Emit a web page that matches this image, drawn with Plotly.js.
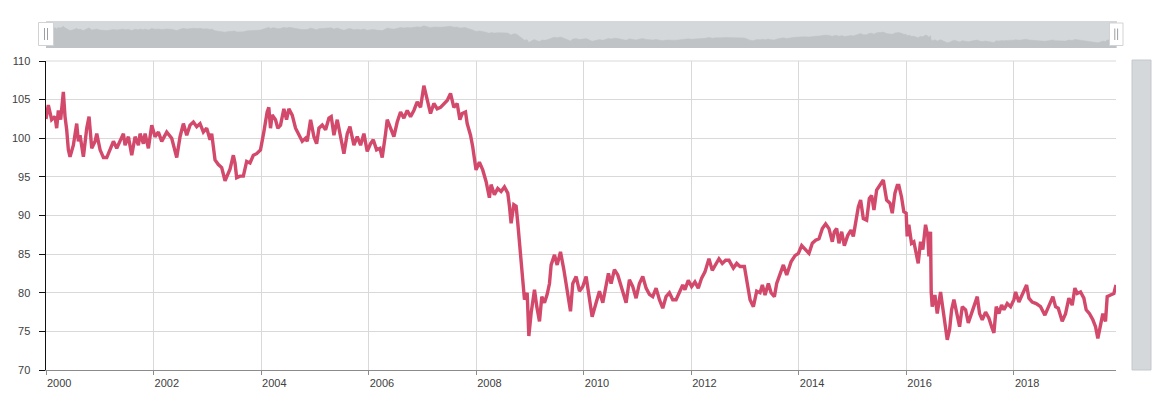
<!DOCTYPE html>
<html>
<head>
<meta charset="utf-8">
<script src="https://cdn.plot.ly/plotly-3.0.1.min.js"></script>
<style>
  html, body { margin: 0; padding: 0; background: #fff; }
  #chart { width: 1170px; height: 400px; }
</style>
</head>
<body>
<div id="chart"></div>
<script>
// ---- Data ----
// Time as decimal years, value of the index
const decimalYears = [
  2000.000, 2000.043, 2000.105, 2000.167, 2000.198, 2000.229, 2000.272, 2000.322, 2000.353, 2000.384,
  2000.415, 2000.446, 2000.508, 2000.570, 2000.601, 2000.632, 2000.694, 2000.756, 2000.799, 2000.849,
  2000.911, 2000.942, 2001.004, 2001.066, 2001.128, 2001.190, 2001.252, 2001.314, 2001.376, 2001.438,
  2001.469, 2001.531, 2001.593, 2001.655, 2001.717, 2001.748, 2001.810, 2001.841, 2001.903, 2001.965,
  2002.027, 2002.089, 2002.151, 2002.244, 2002.337, 2002.430, 2002.492, 2002.554, 2002.616, 2002.678,
  2002.740, 2002.802, 2002.864, 2002.926, 2002.988, 2003.050, 2003.081, 2003.143, 2003.205, 2003.267,
  2003.329, 2003.391, 2003.422, 2003.484, 2003.515, 2003.546, 2003.608, 2003.670, 2003.732, 2003.794,
  2003.856, 2003.918, 2003.989, 2004.051, 2004.113, 2004.144, 2004.175, 2004.206, 2004.268, 2004.311,
  2004.361, 2004.423, 2004.473, 2004.516, 2004.578, 2004.640, 2004.702, 2004.764, 2004.826, 2004.857,
  2004.919, 2004.981, 2005.031, 2005.074, 2005.136, 2005.198, 2005.260, 2005.303, 2005.353, 2005.415,
  2005.477, 2005.539, 2005.601, 2005.651, 2005.725, 2005.787, 2005.849, 2005.911, 2005.973, 2006.035,
  2006.085, 2006.147, 2006.209, 2006.252, 2006.314, 2006.345, 2006.407, 2006.469, 2006.531, 2006.593,
  2006.655, 2006.717, 2006.779, 2006.841, 2006.903, 2006.965, 2007.027, 2007.089, 2007.151, 2007.213,
  2007.275, 2007.337, 2007.399, 2007.461, 2007.523, 2007.585, 2007.647, 2007.697, 2007.740, 2007.802,
  2007.833, 2007.895, 2007.936, 2007.998, 2008.060, 2008.122, 2008.184, 2008.246, 2008.277, 2008.339,
  2008.401, 2008.463, 2008.525, 2008.587, 2008.618, 2008.649, 2008.699, 2008.742, 2008.773, 2008.804,
  2008.835, 2008.866, 2008.897, 2008.947, 2008.978, 2009.021, 2009.083, 2009.126, 2009.176, 2009.219,
  2009.269, 2009.319, 2009.362, 2009.393, 2009.455, 2009.505, 2009.567, 2009.629, 2009.703, 2009.753,
  2009.796, 2009.858, 2009.920, 2009.982, 2010.044, 2010.106, 2010.156, 2010.230, 2010.292, 2010.354,
  2010.416, 2010.459, 2010.509, 2010.571, 2010.633, 2010.695, 2010.757, 2010.788, 2010.850, 2010.912,
  2010.974, 2011.036, 2011.098, 2011.160, 2011.222, 2011.284, 2011.346, 2011.408, 2011.470, 2011.532,
  2011.594, 2011.656, 2011.718, 2011.780, 2011.842, 2011.883, 2011.945, 2012.007, 2012.069, 2012.131,
  2012.193, 2012.255, 2012.329, 2012.391, 2012.453, 2012.515, 2012.577, 2012.639, 2012.701, 2012.782,
  2012.844, 2012.906, 2012.987, 2013.030, 2013.092, 2013.154, 2013.216, 2013.278, 2013.321, 2013.371,
  2013.433, 2013.483, 2013.545, 2013.588, 2013.650, 2013.712, 2013.774, 2013.855, 2013.929, 2013.991,
  2014.053, 2014.115, 2014.189, 2014.251, 2014.313, 2014.375, 2014.437, 2014.499, 2014.561, 2014.623,
  2014.661, 2014.704, 2014.747, 2014.797, 2014.847, 2014.909, 2014.971, 2015.014, 2015.057, 2015.107,
  2015.150, 2015.200, 2015.262, 2015.312, 2015.355, 2015.398, 2015.448, 2015.510, 2015.572, 2015.634,
  2015.696, 2015.739, 2015.789, 2015.832, 2015.861, 2015.911, 2015.954, 2015.997, 2016.016, 2016.047,
  2016.097, 2016.140, 2016.183, 2016.221, 2016.264, 2016.307, 2016.357, 2016.400, 2016.419, 2016.450,
  2016.462, 2016.481, 2016.531, 2016.574, 2016.636, 2016.686, 2016.729, 2016.760, 2016.803, 2016.841,
  2016.884, 2016.927, 2016.989, 2017.039, 2017.101, 2017.151, 2017.213, 2017.256, 2017.318, 2017.361,
  2017.411, 2017.473, 2017.535, 2017.585, 2017.628, 2017.671, 2017.721, 2017.771, 2017.814, 2017.876,
  2017.938, 2018.000, 2018.031, 2018.093, 2018.167, 2018.236, 2018.279, 2018.341, 2018.415, 2018.496,
  2018.577, 2018.639, 2018.682, 2018.725, 2018.775, 2018.825, 2018.899, 2018.961, 2019.023, 2019.085,
  2019.135, 2019.178, 2019.240, 2019.302, 2019.345, 2019.407, 2019.469, 2019.519, 2019.562, 2019.612,
  2019.655, 2019.705, 2019.736, 2019.798, 2019.860, 2019.900
];
const indexValues = [
  102.5, 104.3, 102.4, 102.8, 101.3, 103.6, 102.4, 106.0, 102.8, 101.1,
  98.5, 97.6, 99.1, 101.9, 99.6, 100.4, 97.6, 101.3, 102.8, 98.7,
  99.6, 100.6, 98.5, 97.5, 97.5, 98.5, 99.6, 98.7, 99.8, 100.6,
  99.1, 100.2, 97.8, 100.2, 99.1, 100.6, 99.3, 100.6, 98.7, 101.7,
  100.2, 100.8, 99.6, 100.8, 100.0, 97.5, 100.2, 101.9, 100.4, 101.7,
  102.1, 101.5, 101.9, 100.8, 101.3, 99.8, 100.6, 97.2, 96.6, 96.2,
  94.5, 95.6, 96.0, 97.8, 96.8, 94.9, 95.1, 95.1, 97.0, 96.8,
  97.8, 98.0, 98.5, 100.8, 103.4, 104.0, 101.3, 103.0, 102.4, 101.3,
  101.7, 103.8, 102.4, 103.8, 103.0, 101.3, 100.4, 99.6, 100.0, 99.6,
  102.4, 100.2, 99.3, 101.3, 101.7, 101.1, 102.6, 102.8, 100.4, 102.4,
  100.2, 98.0, 100.6, 101.5, 99.1, 100.2, 99.1, 100.6, 98.3, 99.3,
  99.8, 98.5, 98.7, 97.5, 100.6, 102.4, 101.3, 100.2, 102.1, 103.4,
  102.6, 103.6, 102.8, 103.6, 104.7, 104.0, 106.8, 104.9, 103.2, 104.5,
  103.8, 104.0, 104.5, 104.9, 105.8, 104.0, 104.5, 102.4, 103.2, 103.4,
  101.9, 100.4, 98.9, 95.9, 96.9, 95.9, 94.4, 92.3, 94.0, 92.7,
  93.5, 93.1, 93.7, 92.9, 91.2, 89.0, 91.4, 91.2, 89.0, 86.4,
  83.8, 81.2, 79.1, 80.0, 74.4, 77.4, 80.4, 78.2, 76.3, 79.5,
  78.7, 79.8, 81.2, 83.6, 84.9, 83.6, 85.3, 83.0, 79.5, 77.6,
  81.2, 82.1, 80.2, 80.8, 82.1, 79.5, 76.9, 78.7, 80.2, 78.7,
  80.8, 82.5, 81.2, 83.0, 82.3, 80.8, 79.5, 78.7, 81.7, 80.8,
  79.3, 81.2, 82.1, 80.6, 79.8, 79.5, 80.6, 79.1, 78.0, 79.5,
  80.0, 79.1, 79.1, 80.0, 81.0, 80.4, 81.6, 80.8, 81.4, 80.6,
  81.9, 82.7, 84.4, 82.9, 83.6, 84.4, 83.8, 84.2, 84.2, 83.2,
  83.8, 83.4, 83.4, 81.6, 79.1, 78.2, 80.2, 80.0, 81.0, 79.7,
  81.2, 80.0, 79.5, 81.2, 82.5, 83.6, 82.3, 84.0, 84.8, 85.1,
  86.1, 85.7, 85.1, 86.4, 86.8, 87.0, 88.3, 88.9, 88.3, 86.6,
  87.9, 88.3, 86.4, 87.9, 86.1, 87.4, 88.1, 87.3, 88.9, 91.1,
  92.0, 89.6, 89.4, 92.2, 92.6, 90.7, 93.3, 93.9, 94.6, 92.0,
  91.6, 90.3, 92.9, 93.9, 93.9, 92.4, 90.5, 90.3, 87.3, 88.8,
  86.4, 86.6, 85.1, 83.8, 86.6, 85.6, 88.8, 87.3, 84.7, 87.9,
  80.1, 78.2, 79.7, 77.3, 80.1, 77.3, 75.6, 73.9, 75.2, 77.8,
  79.1, 77.8, 75.6, 78.2, 77.8, 76.1, 77.3, 78.4, 79.5, 77.3,
  76.5, 77.5, 76.7, 75.6, 74.8, 78.2, 77.3, 78.4, 77.8, 78.6,
  78.2, 79.1, 80.1, 78.8, 79.9, 81.0, 79.3, 78.8, 78.6, 78.2,
  77.1, 78.2, 78.8, 79.5, 78.2, 78.0, 76.3, 77.3, 79.3, 78.4,
  80.6, 79.9, 80.1, 79.3, 77.8, 77.3, 76.5, 75.6, 74.1, 75.6,
  77.3, 76.3, 79.5, 79.7, 79.9, 81.0
];
const yTickValues = [70, 75, 80, 85, 90, 95, 100, 105, 110];
const xTickYears = [2000, 2002, 2004, 2006, 2008, 2010, 2012, 2014, 2016, 2018];
const xRangeYears = [2000.0, 2019.90];

// ---- helpers ----
function yearToDate(t) {
  const y = Math.floor(t);
  const a = Date.UTC(y, 0, 1), b = Date.UTC(y + 1, 0, 1);
  const d = new Date(a + (t - y) * (b - a));
  return d.toISOString().slice(0, 19).replace('T', ' ');
}
const dates = decimalYears.map(yearToDate);
const xRange = xRangeYears.map(yearToDate);
const xTicks = xTickYears.map(y => y + '-01-01');

// pixel -> paper helpers (margins l=46, r=54, t=21, b=30)
const W = 1170, H = 400, ML = 46, MR = 54, MT = 21, MB = 30;
const PW = W - ML - MR, PH = H - MT - MB;
const PX = x => (x - ML) / PW;
const PY = y => (H - MB - y) / PH;

const mainTop = PY(61);
const sbTop = PY(21), sbBot = PY(48);

const lineColor = '#d2496b';

const traces = [
  {
    x: dates, y: indexValues, type: 'scatter', mode: 'lines',
    line: { color: lineColor, width: 3.4 },
    xaxis: 'x', yaxis: 'y', hoverinfo: 'skip', cliponaxis: true
  },
  {
    x: dates, y: indexValues, type: 'scatter', mode: 'lines',
    line: { color: '#bfc3c5', width: 0.5 },
    fill: 'tozeroy', fillcolor: '#bfc3c5',
    xaxis: 'x2', yaxis: 'y2', hoverinfo: 'skip'
  }
];

const shapes = [
  // top scrollbar background
  { type: 'rect', xref: 'paper', yref: 'paper', x0: PX(46), x1: PX(1117), y0: sbBot, y1: sbTop,
    fillcolor: '#d4d8db', line: { width: 0 }, layer: 'below' },
  // right vertical scrollbar
  { type: 'rect', xref: 'paper', yref: 'paper', x0: PX(1132), x1: PX(1151), y0: PY(370), y1: PY(60),
    fillcolor: '#d4d8db', line: { width: 1, color: '#c4c8cb' }, layer: 'above' },
  // left grip
  { type: 'rect', xref: 'paper', yref: 'paper', x0: PX(38.5), x1: PX(53.5), y0: PY(45.5), y1: PY(22.5),
    fillcolor: '#ffffff', line: { width: 1, color: '#cfd3d6' }, layer: 'above' },
  { type: 'line', xref: 'paper', yref: 'paper', x0: PX(44.5), x1: PX(44.5), y0: PY(40), y1: PY(28),
    line: { width: 1, color: '#9aa0a4' } },
  { type: 'line', xref: 'paper', yref: 'paper', x0: PX(47.5), x1: PX(47.5), y0: PY(40), y1: PY(28),
    line: { width: 1, color: '#9aa0a4' } },
  // right grip
  { type: 'rect', xref: 'paper', yref: 'paper', x0: PX(1109.5), x1: PX(1123), y0: PY(45.5), y1: PY(23),
    fillcolor: '#ffffff', line: { width: 1, color: '#cfd3d6' }, layer: 'above' },
  { type: 'line', xref: 'paper', yref: 'paper', x0: PX(1114.8), x1: PX(1114.8), y0: PY(40), y1: PY(28.5),
    line: { width: 1, color: '#9aa0a4' } },
  { type: 'line', xref: 'paper', yref: 'paper', x0: PX(1117.6), x1: PX(1117.6), y0: PY(40), y1: PY(28.5),
    line: { width: 1, color: '#9aa0a4' } },
  // top gridline at 110
  { type: 'line', xref: 'paper', yref: 'paper', x0: 0, x1: 1, y0: mainTop, y1: mainTop,
    line: { width: 1, color: '#d9d9d9' }, layer: 'below' }
];

const layout = {
  width: W, height: H,
  margin: { l: ML, r: MR, t: MT, b: MB, pad: 0 },
  paper_bgcolor: '#ffffff', plot_bgcolor: 'rgba(0,0,0,0)',
  showlegend: false,
  font: { family: 'Liberation Sans, Arial, sans-serif', size: 11, color: '#404040' },
  xaxis: {
    type: 'date', range: xRange, domain: [0, 1], anchor: 'y',
    tickmode: 'array', tickvals: xTicks, ticktext: xTickYears.map(String),
    ticklabelposition: 'outside right', ticklabelstandoff: 3,
    showgrid: true, gridcolor: '#d9d9d9', gridwidth: 1,
    showline: true, linecolor: '#8c8c8c', linewidth: 1,
    ticks: 'outside', ticklen: 4, tickcolor: '#8c8c8c',
    tickfont: { size: 11, color: '#404040' }, zeroline: false, fixedrange: true
  },
  yaxis: {
    range: [70, 110], domain: [0, mainTop], anchor: 'x',
    tickmode: 'array', tickvals: yTickValues, ticktext: yTickValues.map(String),
    showgrid: true, gridcolor: '#d9d9d9', gridwidth: 1,
    showline: true, linecolor: '#111111', linewidth: 1.5,
    ticks: 'outside', ticklen: 6, tickcolor: '#111111',
    ticklabelstandoff: 6,
    tickfont: { size: 11, color: '#404040' }, zeroline: false, fixedrange: true
  },
  xaxis2: {
    type: 'date', range: xRange, domain: [PX(46), PX(1117)], anchor: 'y2',
    showgrid: false, showticklabels: false, showline: false, zeroline: false, ticks: '', fixedrange: true
  },
  yaxis2: {
    range: [64, 116], domain: [sbBot, sbTop], anchor: 'x2',
    showgrid: false, showticklabels: false, showline: false, zeroline: false, ticks: '', fixedrange: true
  },
  shapes: shapes
};

Plotly.newPlot('chart', traces, layout, { displayModeBar: false, staticPlot: true });
</script>
</body>
</html>
